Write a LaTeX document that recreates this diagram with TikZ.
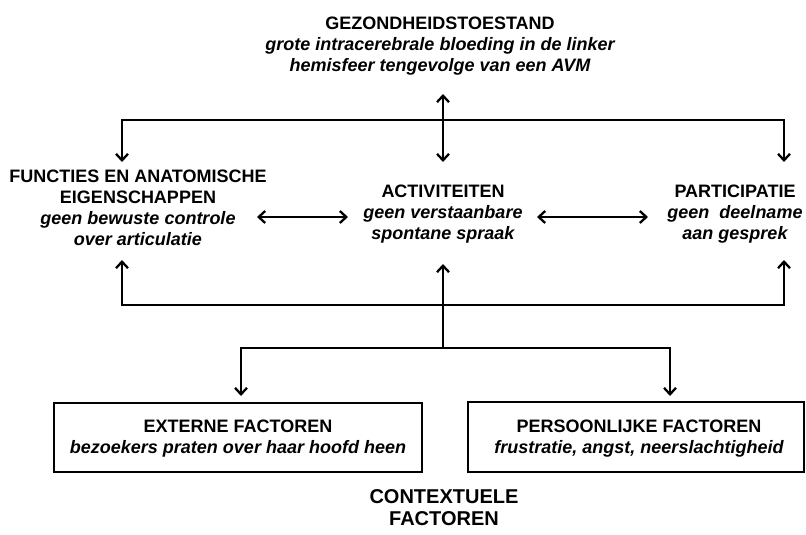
\documentclass[tikz,border=0pt]{standalone}
\usepackage{fontspec}
\setmainfont{Liberation Sans}
\usetikzlibrary{arrows.meta}
\begin{document}
\begin{tikzpicture}[x=1pt,y=-1pt,
  line join=miter,
  conn/.style={line width=2.5pt,-{Straight Barb[length=6.5pt,width=12pt,line width=2.3pt]}},
  dconn/.style={line width=2.5pt,{Straight Barb[length=6.5pt,width=12pt,line width=2.3pt]}-{Straight Barb[length=6.5pt,width=12pt,line width=2.3pt]}},
  toptext/.style={align=center,inner sep=0pt,font=\fontsize{18}{21}\selectfont\bfseries},
  boxtext/.style={align=center,inner sep=0pt,font=\fontsize{18}{21.5}\selectfont\bfseries},
  ctxtext/.style={align=center,inner sep=0pt,font=\fontsize{20}{22}\selectfont\bfseries},
  factorbox/.style={draw,line width=2.5pt,inner sep=0pt}]
\useasboundingbox (0,0) rectangle (806,535);

% text nodes
\node[toptext] (gez) at (440,46) {GEZONDHEIDSTOESTAND\\\itshape grote intracerebrale bloeding in de linker\\\itshape hemisfeer tengevolge van een AVM};
\node[toptext] (fun) at (138,208) {FUNCTIES EN ANATOMISCHE\\EIGENSCHAPPEN\\\itshape geen bewuste controle\\\itshape over articulatie};
\node[toptext] (act) at (443,214) {ACTIVITEITEN\\\itshape geen verstaanbare\\\itshape spontane spraak};
\node[toptext] (par) at (735,214) {PARTICIPATIE\\\itshape geen\ \ deelname\\\itshape aan gesprek};

% boxes
\node[factorbox,minimum width=368pt,minimum height=69pt] (ext) at (238,437.5) {};
\node[boxtext] (extt) at (238,438.5) {EXTERNE FACTOREN\\\itshape bezoekers praten over haar hoofd heen};
\node[factorbox,minimum width=336pt,minimum height=70pt] (per) at (636,437) {};
\node[boxtext] (pert) at (639,438.5) {PERSOONLIJKE FACTOREN\\\itshape frustratie, angst, neerslachtigheid};
\node[ctxtext] (ctx) at (444,508) {CONTEXTUELE\\FACTOREN};

% coordinates
\coordinate (tA) at (443,94);
\coordinate (tB) at (443,162);
\coordinate (hub1) at (443,120);
\coordinate (fA) at (122,162);
\coordinate (pA) at (784,162);
\coordinate (l1) at (257,217);
\coordinate (l2) at (348,217);
\coordinate (r1) at (537,217);
\coordinate (r2) at (648,217);
\coordinate (hub2) at (443,305);
\coordinate (fB) at (122,260);
\coordinate (pB) at (784,260);
\coordinate (aB) at (443,264);
\coordinate (hub3) at (443,348);
\coordinate (eT) at (241,396);
\coordinate (pT) at (670,396);

% connectors
\draw[dconn] (tA) -- (tB);
\draw[conn] (hub1) -| (fA);
\draw[conn] (hub1) -| (pA);
\draw[dconn] (l1) -- (l2);
\draw[dconn] (r1) -- (r2);
\draw[conn] (hub2) -| (fB);
\draw[conn] (hub2) -| (pB);
\draw[conn] (hub3) -- (aB);
\draw[conn] (hub3) -| (eT);
\draw[conn] (hub3) -| (pT);
\end{tikzpicture}
\end{document}
